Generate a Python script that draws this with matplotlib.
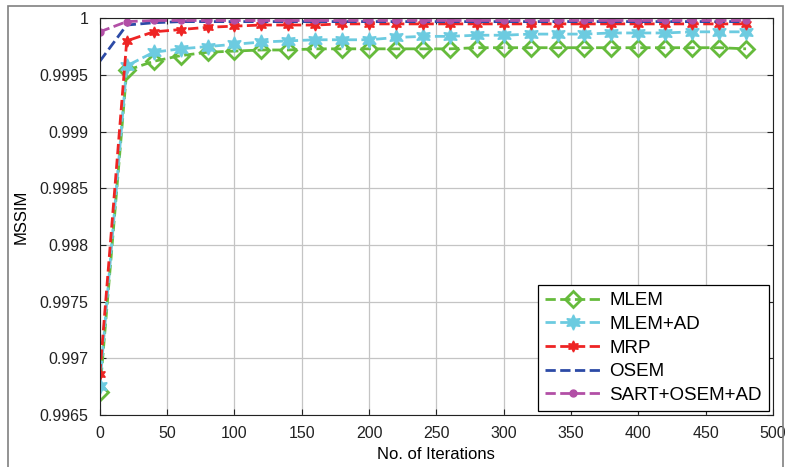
import numpy as np
import matplotlib
matplotlib.use('Agg')
import matplotlib.pyplot as plt
from matplotlib.patches import Rectangle

plt.rcParams['font.family'] = ['Liberation Sans', 'DejaVu Sans']

iters = np.arange(0, 500, 20)

mlem = [0.99670, 0.99954, 0.99962, 0.99967, 0.99970, 0.99971, 0.99972, 0.99972,
        0.99973, 0.99973, 0.99973, 0.99973, 0.99973, 0.99973, 0.99974, 0.99974,
        0.99974, 0.99974, 0.99974, 0.99974, 0.99974, 0.99974, 0.99974, 0.99974, 0.99973]
mlem_ad = [0.99676, 0.99958, 0.99970, 0.99973, 0.99975, 0.99977, 0.99979, 0.99980,
           0.99981, 0.99981, 0.99981, 0.99983, 0.99984, 0.99984, 0.99985, 0.99985,
           0.99986, 0.99986, 0.99986, 0.99987, 0.99987, 0.99987, 0.99988, 0.99988, 0.99988]
mrp = [0.99686, 0.99980, 0.99988, 0.99990, 0.99992, 0.99993, 0.99994, 0.99994,
       0.99994, 0.99995, 0.99995, 0.99995, 0.99995, 0.99995, 0.99995, 0.99995,
       0.99995, 0.99995, 0.99995, 0.99995, 0.99995, 0.99995, 0.99995, 0.99995, 0.99995]
osem = [0.99962, 0.99994, 0.99996, 0.99997, 0.99997, 0.99997, 0.99997, 0.99997,
        0.99997, 0.99997, 0.99997, 0.99997, 0.99997, 0.99997, 0.99997, 0.99997,
        0.99997, 0.99997, 0.99997, 0.99997, 0.99997, 0.99997, 0.99997, 0.99997, 0.99997]
sart = [0.99988, 0.99997, 0.99998, 0.99998, 0.99998, 0.99998, 0.99998, 0.99998,
        0.99998, 0.99998, 0.99998, 0.99998, 0.99998, 0.99998, 0.99998, 0.99998,
        0.99998, 0.99998, 0.99998, 0.99998, 0.99998, 0.99998, 0.99998, 0.99998, 0.99998]

fig = plt.figure(figsize=(7.92, 4.67), dpi=100)
# outer grey frame like the screenshot
fig.patches.append(Rectangle((8 / 792, -0.05), 775 / 792, 1 - 6 / 467 + 0.05,
                             transform=fig.transFigure, fill=False,
                             edgecolor='#808080', lw=1.2))
ax = fig.add_axes([0.126, 0.111, 0.850, 0.850])

ax.plot(iters, mlem, '--', color='#66bb3c', lw=2, marker='D', ms=8,
        mfc='none', mew=2, label='MLEM')
ax.plot(iters, mlem_ad, '--', color='#6ccbe0', lw=2, marker=(6, 1, 0), ms=11,
        label='MLEM+AD')
ax.plot(iters, mrp, '--', color='#ee2424', lw=2, marker=(6, 1, 0), ms=8,
        label='MRP')
ax.plot(iters, osem, '--', color='#2c4aa6', lw=2, label='OSEM')
ax.plot(iters, sart, '--', color='#b24fa6', lw=2, marker='o', ms=5,
        label='SART+OSEM+AD')

ax.set_xlim(0, 500)
ax.set_ylim(0.9965, 1.0)
ax.set_xticks(np.arange(0, 501, 50))
yt = np.arange(0.9965, 1.00001, 0.0005)
ax.set_yticks(yt)
ax.set_yticklabels(['0.9965', '0.997', '0.9975', '0.998', '0.9985', '0.999', '0.9995', '1'])
ax.grid(True, color='#c4c4c4', lw=0.9)
ax.tick_params(direction='in', top=True, right=True, labelsize=11.5, length=4,
               pad=8, colors='#222222')
for s in ax.spines.values():
    s.set_color('#222222')
    s.set_linewidth(0.8)

ax.set_xlabel('No. of Iterations', fontsize=12, labelpad=4)
ax.set_ylabel('MSSIM', fontsize=12, labelpad=8)

leg = ax.legend(loc='lower right', fontsize=13.5, handlelength=2.9, fancybox=False,
                framealpha=1, edgecolor='black', borderaxespad=0.2, labelspacing=0.35,
                handletextpad=0.5)
leg.get_frame().set_linewidth(0.9)

fig.savefig('out.png', dpi=100)
